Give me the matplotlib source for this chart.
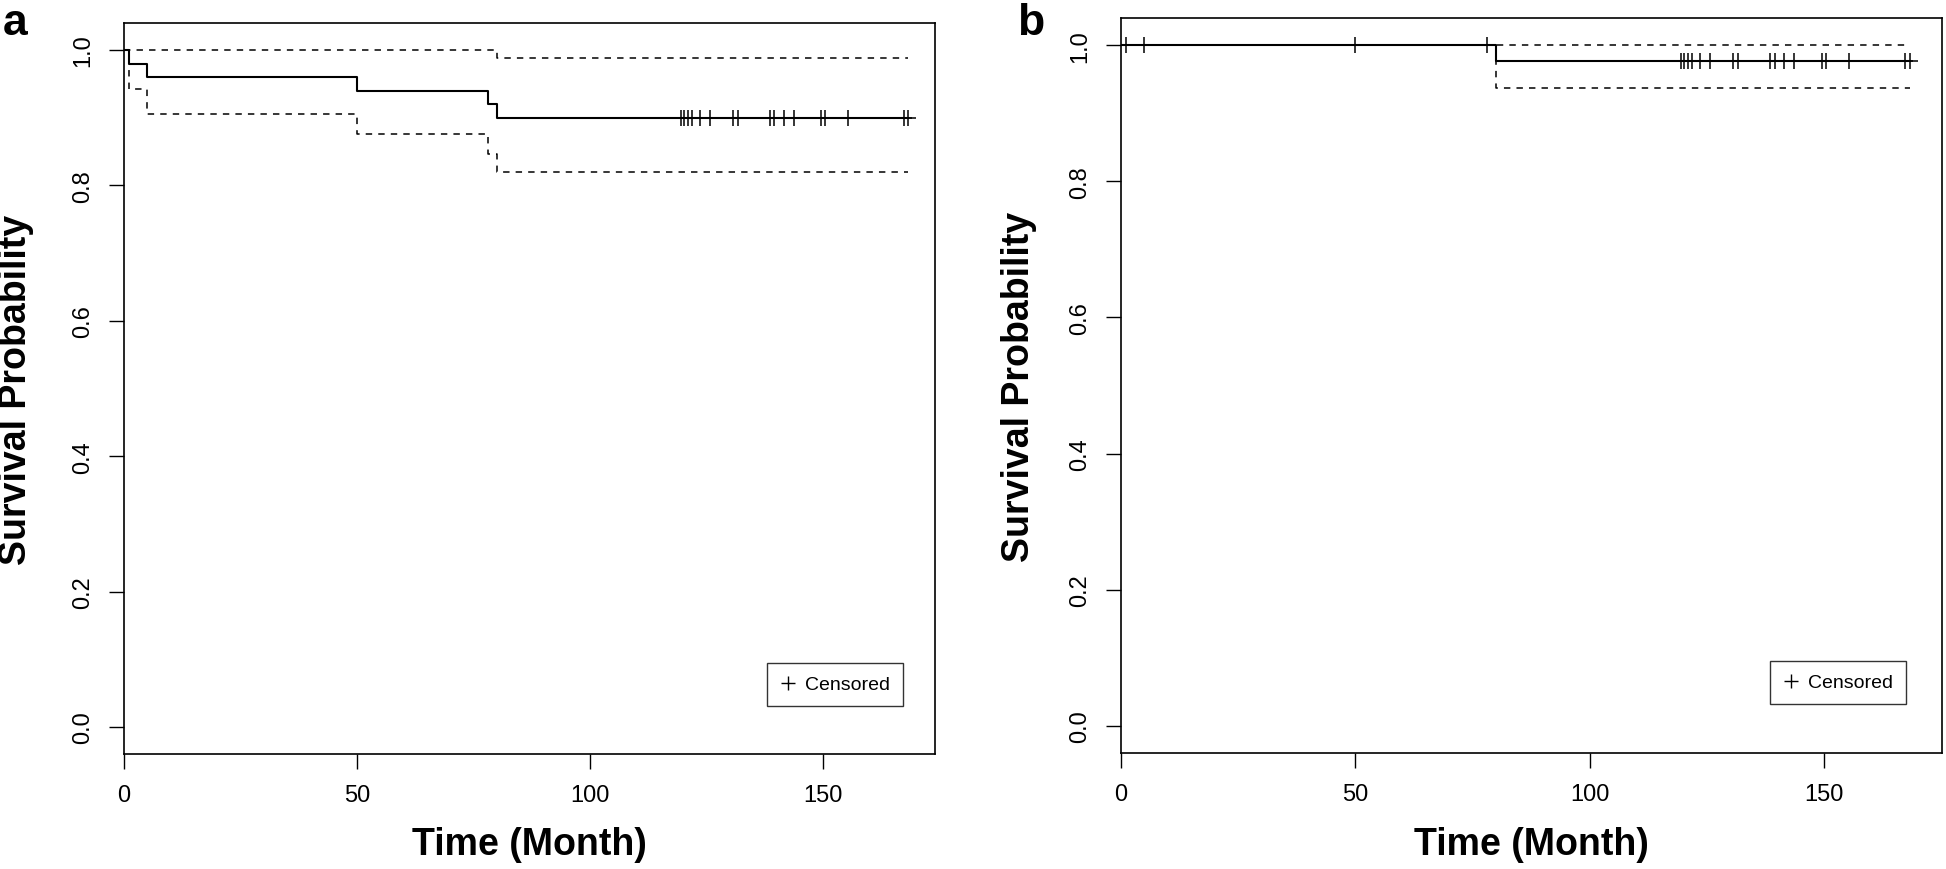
import numpy as np
import matplotlib
matplotlib.use("Agg")
import matplotlib.pyplot as plt
from matplotlib.lines import Line2D

plt.rcParams['font.family'] = ['Liberation Sans', 'DejaVu Sans']

# panel a: Kaplan-Meier estimate with 95% confidence band
time_a = [0, 1, 5, 50, 78, 80, 168.3]
surv_a = [1.0, 0.98, 0.96, 0.94, 0.92, 0.90, 0.90]
upper_a = [1.0, 1.0, 1.0, 1.0, 1.0, 0.988, 0.988]
lower_a = [1.0, 0.942, 0.906, 0.876, 0.847, 0.820, 0.820]

# panel b
time_b = [0, 80, 168.3]
surv_b = [1.0, 0.977, 0.977]
upper_b = [1.0, 1.0, 1.0]
lower_b = [1.0, 0.937, 0.937]

# censoring times (months)
cens_late = [119.5, 120.2, 121.0, 121.8, 123.6, 125.7, 130.7, 131.7, 138.6,
             139.5, 141.5, 143.7, 149.5, 150.5, 155.4, 167.3, 168.3]
cens_a = cens_late
cens_b = [1.0, 5.0, 50.0, 78.0] + cens_late

xticks = [0, 50, 100, 150]
yticks = [0.0, 0.2, 0.4, 0.6, 0.8, 1.0]
ytick_labels = ['0.0', '0.2', '0.4', '0.6', '0.8', '1.0']

W, H = 1946, 870


def surv_at(t, times, surv):
    idx = np.searchsorted(times, t, side='right') - 1
    return np.asarray(surv)[idx]


def km_panel(ax, times, surv, upper, lower, cens, xmax, legend_anchor):
    ax.step(times, upper, where='post', color='black', lw=1.1,
            linestyle=(0, (4.2, 4.0)))
    ax.step(times, lower, where='post', color='black', lw=1.1,
            linestyle=(0, (4.2, 4.0)))
    ax.step(times, surv, where='post', color='black', lw=1.5)
    ax.plot(cens, surv_at(cens, times, surv), ls='none', marker='+',
            markersize=11.5, mew=1.1, color='black')

    ax.set_xlim(0, xmax)
    ax.set_ylim(-0.04, 1.04)
    ax.set_xticks(xticks)
    ax.set_yticks(yticks)
    ax.set_yticklabels(ytick_labels, rotation=90, va='center')
    ax.tick_params(direction='out', length=10.5, width=1.0, labelsize=17,
                   pad=11)
    for sp in ax.spines.values():
        sp.set_linewidth(1.2)

    ax.set_xlabel('Time (Month)', fontsize=27, fontweight='bold', va='center')
    ax.set_ylabel('Survival Probability', fontsize=27, fontweight='bold',
                  va='center')

    h = Line2D([], [], ls='none', marker='+', markersize=10, mew=1.0,
               color='black')
    leg = ax.legend([h], ['Censored'], loc='lower right',
                    bbox_to_anchor=legend_anchor, borderaxespad=0,
                    fontsize=14, frameon=True, fancybox=False,
                    handlelength=0.8, handletextpad=0.5, borderpad=0.65)
    leg.get_frame().set_edgecolor('black')
    leg.get_frame().set_linewidth(1.0)


fig = plt.figure(figsize=(W / 100, H / 100), dpi=100)

ax_a = fig.add_axes([124 / W, (H - 755) / H, 811 / W, 731 / H])
km_panel(ax_a, time_a, surv_a, upper_a, lower_a, cens_a, 174.0,
         (0.9605, 0.0657))
ax_a.xaxis.set_label_coords(0.5, -(845 - 755) / 731)
ax_a.yaxis.set_label_coords(-(124 - 16) / 811, 0.5)

ax_b = fig.add_axes([1121 / W, (H - 754) / H, 821 / W, 735 / H])
km_panel(ax_b, time_b, surv_b, upper_b, lower_b, cens_b, 175.2,
         (0.956, 0.0667))
ax_b.xaxis.set_label_coords(0.5, -(845 - 754) / 735)
ax_b.yaxis.set_label_coords(-(1121 - 1019) / 821, 0.5)

fig.text(3 / W, 1 - 35 / H, 'a', fontsize=32, fontweight='bold',
         ha='left', va='baseline')
fig.text(1017 / W, 1 - 35 / H, 'b', fontsize=32, fontweight='bold',
         ha='left', va='baseline')

fig.savefig('out.png', dpi=100, facecolor='white')
